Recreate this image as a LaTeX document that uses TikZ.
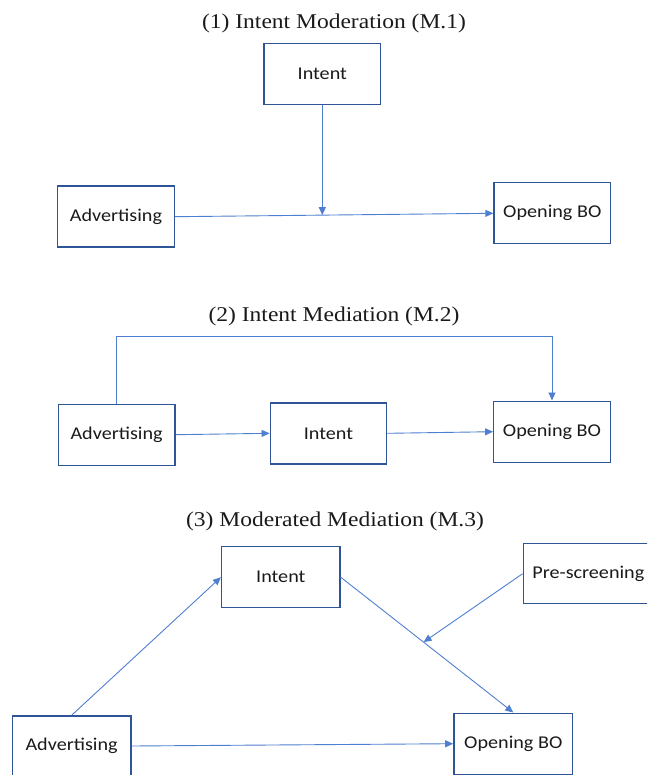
\documentclass[tikz,border=0pt]{standalone}
\usepackage{fontspec}
\setmainfont{Liberation Serif}[FakeStretch=1.12]
\newfontfamily\boxfont{Carlito}[FakeStretch=1.12]
\usetikzlibrary{arrows.meta,calc}
\definecolor{boxblue}{HTML}{2F5597}
\definecolor{arrowblue}{HTML}{4F7FD0}
\definecolor{txt}{HTML}{1A1A1A}
\tikzset{
  var/.style={draw=boxblue, line width=1.4pt, minimum width=116.5pt, minimum height=61pt,
    inner sep=0pt, text=txt, font=\boxfont\fontsize{18}{20}\selectfont, fill=white},
  ttl/.style={text=txt, font=\fontsize{21}{24}\selectfont, inner sep=0pt},
  conn/.style={draw=arrowblue, line width=0.9pt},
  arr/.style={conn, -{Triangle[length=8pt,width=7pt]}}
}
\begin{document}
\begin{tikzpicture}[x=1pt,y=-1pt]
\useasboundingbox (0,0) rectangle (647,775);
\clip (0,0) rectangle (647,775);
% Panel 1
\node[ttl] (t1) at (334,23) {(1) Intent Moderation (M.1)};
\node[var] (int1) at (322.3,73.8) {Intent};
\node[var] (adv1) at (116,216.7) {Advertising};
\node[var] (obo1) at (552.3,213.3) {Opening BO};
\draw[arr] (adv1.east) -- (obo1.west);
\coordinate (m1) at ($(adv1.east)!0.465!(obo1.west)$);
\draw[arr] (int1.south) -- (int1.south |- m1);
% Panel 2
\node[ttl] (t2) at (334,316) {(2) Intent Mediation (M.2)};
\node[var] (adv2) at (116.6,434.7) {Advertising};
\node[var] (int2) at (328.5,433.3) {Intent};
\node[var] (obo2) at (552,431.7) {Opening BO};
\coordinate (top2) at (335,336.7);
\draw[arr] (adv2.east) -- (int2.west);
\draw[arr] (int2.east) -- (obo2.west);
\draw[arr] (adv2.north) |- (top2) -| (obo2.north);
% Panel 3
\node[ttl] (t3) at (335,521) {(3) Moderated Mediation (M.3)};
\node[var, minimum width=118.4pt] (int3) at (280.8,577.2) {Intent};
\node[var, minimum width=130pt, minimum height=60pt] (pre3) at (588.3,573.7) {Pre-screening};
\node[var, minimum width=118.4pt, minimum height=60pt] (adv3) at (71.6,746) {Advertising};
\node[var, minimum width=118.8pt] (obo3) at (513.3,743.7) {Opening BO};
\draw[arr] (adv3.north) -- (int3.west);
\draw[arr] (int3.east) -- (obo3.north);
\draw[arr] (adv3.east) -- (obo3.west);
\coordinate (m3) at ($(int3.east)!0.48!(obo3.north)$);
\draw[arr] (pre3.west) -- (m3);
\end{tikzpicture}
\end{document}
